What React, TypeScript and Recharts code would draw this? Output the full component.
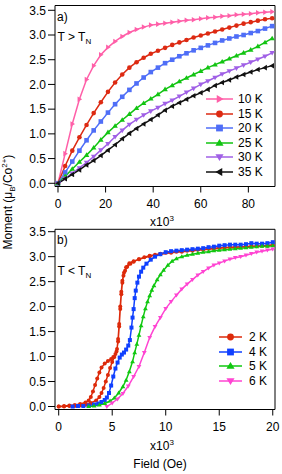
import React from 'react';
import { LineChart, Line, XAxis, YAxis, Legend, ReferenceLine } from 'recharts';

const FONT = '"Liberation Sans", Arial, Helvetica, sans-serif';

// panel a) T > T_N, field in kOe
const fieldA = [0, 3, 6, 9, 12, 15, 18, 21, 24, 27, 30, 33, 36, 39, 42, 45, 48, 51, 54, 57, 60, 63, 66, 69, 72, 75, 78, 81, 84, 87, 90];
const m10K = [0, 0.6, 1.2, 1.7, 2.1, 2.38, 2.6, 2.75, 2.87, 2.97, 3.05, 3.11, 3.16, 3.2, 3.22, 3.24, 3.26, 3.28, 3.3, 3.31, 3.33, 3.35, 3.36, 3.38, 3.39, 3.41, 3.42, 3.43, 3.45, 3.46, 3.47];
const m15K = [0, 0.35, 0.66, 0.93, 1.18, 1.42, 1.64, 1.85, 2.04, 2.2, 2.34, 2.45, 2.54, 2.62, 2.68, 2.74, 2.8, 2.85, 2.9, 2.95, 2.99, 3.03, 3.07, 3.11, 3.15, 3.19, 3.23, 3.26, 3.29, 3.32, 3.34];
const m20K = [0, 0.22, 0.44, 0.66, 0.87, 1.07, 1.25, 1.43, 1.6, 1.75, 1.89, 2.02, 2.14, 2.25, 2.34, 2.43, 2.5, 2.57, 2.63, 2.69, 2.74, 2.79, 2.84, 2.89, 2.93, 2.97, 3.0, 3.04, 3.08, 3.13, 3.18];
const m25K = [0, 0.14, 0.29, 0.43, 0.57, 0.72, 0.88, 1.03, 1.16, 1.28, 1.4, 1.52, 1.62, 1.71, 1.8, 1.9, 1.98, 2.06, 2.13, 2.2, 2.27, 2.34, 2.4, 2.46, 2.52, 2.58, 2.64, 2.7, 2.77, 2.85, 2.93];
const m30K = [0, 0.1, 0.2, 0.31, 0.42, 0.54, 0.67, 0.8, 0.94, 1.07, 1.19, 1.29, 1.38, 1.46, 1.53, 1.61, 1.68, 1.76, 1.84, 1.92, 2.0, 2.07, 2.14, 2.21, 2.27, 2.33, 2.39, 2.45, 2.51, 2.57, 2.64];
const m35K = [0, 0.09, 0.18, 0.27, 0.37, 0.46, 0.56, 0.67, 0.78, 0.9, 1.01, 1.11, 1.2, 1.29, 1.38, 1.48, 1.56, 1.63, 1.7, 1.77, 1.83, 1.9, 1.98, 2.04, 2.09, 2.15, 2.2, 2.25, 2.3, 2.34, 2.38];

// panel b) T < T_N, 2 K is a loop (up sweep then down sweep)
const field2Kup = [0, 0.5, 1, 1.5, 2, 2.5, 3, 3.5, 3.8, 4.0, 4.2, 4.4, 4.6, 4.8, 5.0, 5.2, 5.4, 5.55, 5.65, 5.75, 5.85, 5.95, 6.05, 6.2, 6.4, 6.7, 7.0, 7.5, 8, 8.5, 9, 9.5, 10, 11, 12, 13, 14, 15, 16, 17, 18, 19, 20];
const m2Kup = [0, 0, 0.01, 0.01, 0.02, 0.04, 0.07, 0.12, 0.19, 0.27, 0.37, 0.5, 0.63, 0.77, 0.89, 0.99, 1.1, 1.3, 1.6, 1.95, 2.25, 2.48, 2.62, 2.72, 2.8, 2.86, 2.9, 2.95, 2.99, 3.02, 3.04, 3.06, 3.08, 3.1, 3.12, 3.14, 3.16, 3.18, 3.19, 3.2, 3.21, 3.22, 3.23];
const field2Kdown = [19.5, 18.5, 17.5, 16.5, 15.5, 14.5, 13.5, 12.5, 11.5, 10.5, 9.5, 8.5, 7.5, 7.0, 6.6, 6.3, 6.1, 5.95, 5.85, 5.75, 5.65, 5.55, 5.45, 5.3, 5.1, 4.9, 4.6, 4.3, 4.0, 3.8, 3.6, 3.4, 3.2, 3.0, 2.8, 2.5, 2.0, 1.5, 1.0, 0.5, 0];
const m2Kdown = [3.22, 3.21, 3.2, 3.19, 3.18, 3.16, 3.14, 3.12, 3.1, 3.08, 3.05, 3.01, 2.95, 2.91, 2.87, 2.79, 2.68, 2.52, 2.3, 2.0, 1.65, 1.35, 1.15, 1.05, 0.99, 0.95, 0.91, 0.86, 0.78, 0.68, 0.56, 0.43, 0.3, 0.19, 0.12, 0.08, 0.05, 0.03, 0.02, 0.01, 0];
const field4K = [1.3, 1.8, 2.3, 2.8, 3.3, 3.7, 4.0, 4.3, 4.5, 4.7, 4.9, 5.1, 5.3, 5.5, 5.7, 5.9, 6.1, 6.3, 6.5, 6.65, 6.8, 6.9, 7.0, 7.1, 7.2, 7.35, 7.5, 7.7, 7.9, 8.2, 8.6, 9.0, 9.5, 10, 10.5, 11, 11.5, 12, 12.5, 13, 13.5, 14, 14.5, 15, 15.5, 16, 16.5, 17, 17.5, 18, 18.5, 19, 19.5, 20];
const m4K = [0, 0.01, 0.01, 0.02, 0.04, 0.06, 0.09, 0.13, 0.18, 0.27, 0.42, 0.6, 0.76, 0.88, 0.98, 1.04, 1.08, 1.14, 1.22, 1.33, 1.58, 1.78, 1.95, 2.17, 2.32, 2.48, 2.6, 2.7, 2.78, 2.86, 2.94, 3.0, 3.05, 3.09, 3.11, 3.12, 3.13, 3.14, 3.15, 3.16, 3.17, 3.19, 3.2, 3.22, 3.23, 3.24, 3.24, 3.24, 3.25, 3.27, 3.26, 3.26, 3.27, 3.29];
const field5K = [2.8, 3.3, 3.8, 4.3, 4.8, 5.2, 5.6, 6.0, 6.3, 6.6, 6.9, 7.1, 7.3, 7.5, 7.7, 7.9, 8.1, 8.3, 8.5, 8.7, 8.9, 9.2, 9.5, 9.8, 10.2, 10.6, 11, 11.5, 12, 12.5, 13, 13.5, 14, 14.5, 15, 15.5, 16, 16.5, 17, 17.5, 18, 18.5, 19, 19.5, 20];
const m5K = [0, 0.01, 0.03, 0.06, 0.11, 0.17, 0.27, 0.4, 0.53, 0.7, 0.9, 1.08, 1.25, 1.43, 1.62, 1.8, 1.96, 2.1, 2.22, 2.33, 2.42, 2.54, 2.64, 2.73, 2.83, 2.91, 2.96, 3.0, 3.03, 3.05, 3.07, 3.09, 3.1, 3.12, 3.13, 3.14, 3.15, 3.16, 3.17, 3.18, 3.19, 3.2, 3.21, 3.21, 3.22];
const field6K = [4.5, 5.0, 5.5, 6.0, 6.5, 7.0, 7.5, 8.0, 8.5, 9.0, 9.5, 10, 10.5, 11, 11.5, 12, 12.5, 13, 13.5, 14, 14.5, 15, 15.5, 16, 16.5, 17, 17.5, 18, 18.5, 19, 19.5, 20];
const m6K = [0, 0.07, 0.15, 0.26, 0.41, 0.6, 0.8, 1.08, 1.38, 1.6, 1.78, 1.96, 2.1, 2.23, 2.35, 2.45, 2.54, 2.63, 2.7, 2.77, 2.83, 2.87, 2.91, 2.95, 2.98, 3.0, 3.03, 3.06, 3.09, 3.11, 3.13, 3.15];

const ticksA = [0, 20, 40, 60, 80];
const ticksB = [0, 5, 10, 15, 20];
const ticksY = [0, 0.5, 1, 1.5, 2, 2.5, 3, 3.5];

const xDomA = [-1.26, 91.2];
const yDomA = [-0.065, 3.597];
const xDomB = [-0.346, 20.21];
const yDomB = [-0.06, 3.548];

type Shape = 'circle' | 'square' | 'up' | 'down' | 'left' | 'right';

const toRows = (x: number[], y: number[]) => x.map((f, i) => ({ field: f, m: y[i] }));

const rowsA = fieldA.map((f, i) => ({
  field: f, m10: m10K[i], m15: m15K[i], m20: m20K[i], m25: m25K[i], m30: m30K[i], m35: m35K[i],
}));

const seriesA = [
  { key: 'm10', name: '10 K', color: '#ff5fa8', shape: 'right' as Shape },
  { key: 'm15', name: '15 K', color: '#dd2a12', shape: 'circle' as Shape },
  { key: 'm20', name: '20 K', color: '#4f6ef7', shape: 'square' as Shape },
  { key: 'm25', name: '25 K', color: '#12c412', shape: 'up' as Shape },
  { key: 'm30', name: '30 K', color: '#a060e6', shape: 'down' as Shape },
  { key: 'm35', name: '35 K', color: '#111111', shape: 'left' as Shape },
];

const seriesB = [
  { name: '2 K', color: '#dd2a0a', shape: 'circle' as Shape, data: toRows([...field2Kup, ...field2Kdown], [...m2Kup, ...m2Kdown]) },
  { name: '4 K', color: '#1040ff', shape: 'square' as Shape, data: toRows(field4K, m4K) },
  { name: '5 K', color: '#10c810', shape: 'up' as Shape, data: toRows(field5K, m5K) },
  { name: '6 K', color: '#ff44d2', shape: 'down' as Shape, data: toRows(field6K, m6K) },
];

function Marker({ cx, cy, shape, color, r }: { cx: number; cy: number; shape: Shape; color: string; r: number }) {
  if (cx == null || cy == null) return <g />;
  const a = r * 1.2;
  const b = r * 0.8;
  switch (shape) {
    case 'circle':
      return <circle cx={cx} cy={cy} r={r} fill={color} />;
    case 'square':
      return <rect x={cx - r} y={cy - r} width={2 * r} height={2 * r} fill={color} />;
    case 'up':
      return <polygon points={`${cx},${cy - a} ${cx + a},${cy + b} ${cx - a},${cy + b}`} fill={color} />;
    case 'down':
      return <polygon points={`${cx},${cy + a} ${cx + a},${cy - b} ${cx - a},${cy - b}`} fill={color} />;
    case 'right':
      return <polygon points={`${cx + a},${cy} ${cx - b},${cy - a} ${cx - b},${cy + a}`} fill={color} />;
    default:
      return <polygon points={`${cx - a},${cy} ${cx + b},${cy - a} ${cx + b},${cy + a}`} fill={color} />;
  }
}

const makeDot = (shape: Shape, color: string, r: number) => (props: any) => (
  <Marker key={`d-${props.index}`} cx={props.cx} cy={props.cy} shape={shape} color={color} r={r} />
);

const renderLegend = (items: { name: string; color: string; shape: Shape }[], len: number, gap: number) => () => (
  <div style={{ fontFamily: FONT, fontSize: 12, color: '#000' }}>
    {items.map((s) => (
      <div key={s.name} style={{ display: 'flex', alignItems: 'center', height: 14.5 }}>
        <svg width={len} height={10} style={{ display: 'block' }}>
          <line x1={0} y1={5} x2={len} y2={5} stroke={s.color} strokeWidth={1.5} />
          <Marker cx={len / 2} cy={5} shape={s.shape} color={s.color} r={3.4} />
        </svg>
        <span style={{ marginLeft: gap, lineHeight: '12px' }}>{s.name}</span>
      </div>
    ))}
  </div>
);

const tickStyle = { fontSize: 12, fill: '#000', fontFamily: FONT };
const axisLine = { stroke: '#000', strokeWidth: 1 };
const fmtY = (v: number) => v.toFixed(1);

const abs = (left: number, top: number, extra: React.CSSProperties = {}): React.CSSProperties => ({
  position: 'absolute', left, top, fontSize: 12, lineHeight: '12px', whiteSpace: 'nowrap', color: '#000', ...extra,
});
const sub: React.CSSProperties = { fontSize: 8, verticalAlign: -3 };
const sup: React.CSSProperties = { fontSize: 8, verticalAlign: 5 };

export default function App() {
  return (
    <div style={{ position: 'absolute', left: 0, top: 0, width: 282, height: 474, background: '#fff', fontFamily: FONT }}>
      <div style={{ position: 'absolute', left: 0, top: 0 }}>
        <LineChart width={282} height={226} margin={{ top: 5.5, right: 7, bottom: 9.5, left: 0 }} style={{ fontFamily: FONT }}>
          <XAxis type="number" dataKey="field" domain={xDomA} ticks={ticksA} allowDataOverflow
            tickSize={6} tickMargin={7} height={30} axisLine={axisLine} tickLine={axisLine} tick={tickStyle} />
          <YAxis type="number" domain={yDomA} ticks={ticksY} allowDataOverflow width={55}
            tickSize={7} tickMargin={2} axisLine={axisLine} tickLine={axisLine} tick={tickStyle} tickFormatter={fmtY} />
          <ReferenceLine y={yDomA[1]} stroke="#000" strokeWidth={1} />
          <ReferenceLine x={xDomA[1]} stroke="#000" strokeWidth={1} />
          {seriesA.map((s) => (
            <Line key={s.key} data={rowsA} dataKey={s.key} name={s.name} stroke={s.color} strokeWidth={1.5}
              dot={makeDot(s.shape, s.color, 2.3)} activeDot={false} isAnimationActive={false} />
          ))}
          <Legend layout="horizontal" verticalAlign="middle" align="center"
            wrapperStyle={{ left: 206, top: 92, width: 76 }} content={renderLegend(seriesA, 27, 5)} />
        </LineChart>
      </div>

      <div style={{ position: 'absolute', left: 0, top: 224 }}>
        <LineChart width={282} height={250} margin={{ top: 5.3, right: 7, bottom: 34.5, left: 0 }} style={{ fontFamily: FONT }}>
          <XAxis type="number" dataKey="field" domain={xDomB} ticks={ticksB} allowDataOverflow
            tickSize={6} tickMargin={7} height={30} axisLine={axisLine} tickLine={axisLine} tick={tickStyle} />
          <YAxis type="number" domain={yDomB} ticks={ticksY} allowDataOverflow width={55}
            tickSize={7} tickMargin={2} axisLine={axisLine} tickLine={axisLine} tick={tickStyle} tickFormatter={fmtY} />
          <ReferenceLine y={yDomB[1]} stroke="#000" strokeWidth={1} />
          <ReferenceLine x={xDomB[1]} stroke="#000" strokeWidth={1} />
          {seriesB.map((s) => (
            <Line key={s.name} data={s.data} dataKey="m" name={s.name} stroke={s.color} strokeWidth={1.5}
              dot={makeDot(s.shape, s.color, 2)} activeDot={false} isAnimationActive={false} />
          ))}
          <Legend layout="horizontal" verticalAlign="middle" align="center"
            wrapperStyle={{ left: 219, top: 106, width: 63 }} content={renderLegend(seriesB, 23, 7)} />
        </LineChart>
      </div>

      <span style={abs(57, 11)}>a)</span>
      <span style={abs(57.5, 31)}>T &gt; T<span style={sub}>N</span></span>
      <span style={abs(162, 213, { transform: 'translateX(-50%)' })}>x10<span style={sup}>3</span></span>

      <span style={abs(57, 234)}>b)</span>
      <span style={abs(57.5, 265)}>T &lt; T<span style={sub}>N</span></span>
      <span style={abs(162, 437, { transform: 'translateX(-50%)' })}>x10<span style={sup}>3</span></span>
      <span style={abs(160, 458, { transform: 'translateX(-50%)' })}>Field (Oe)</span>

      <span style={abs(9, 202, { transform: 'translate(-50%, -50%) rotate(-90deg)' })}>
        Moment (μ<span style={sub}>B</span>/Co<span style={sup}>2+</span>)
      </span>
    </div>
  );
}
